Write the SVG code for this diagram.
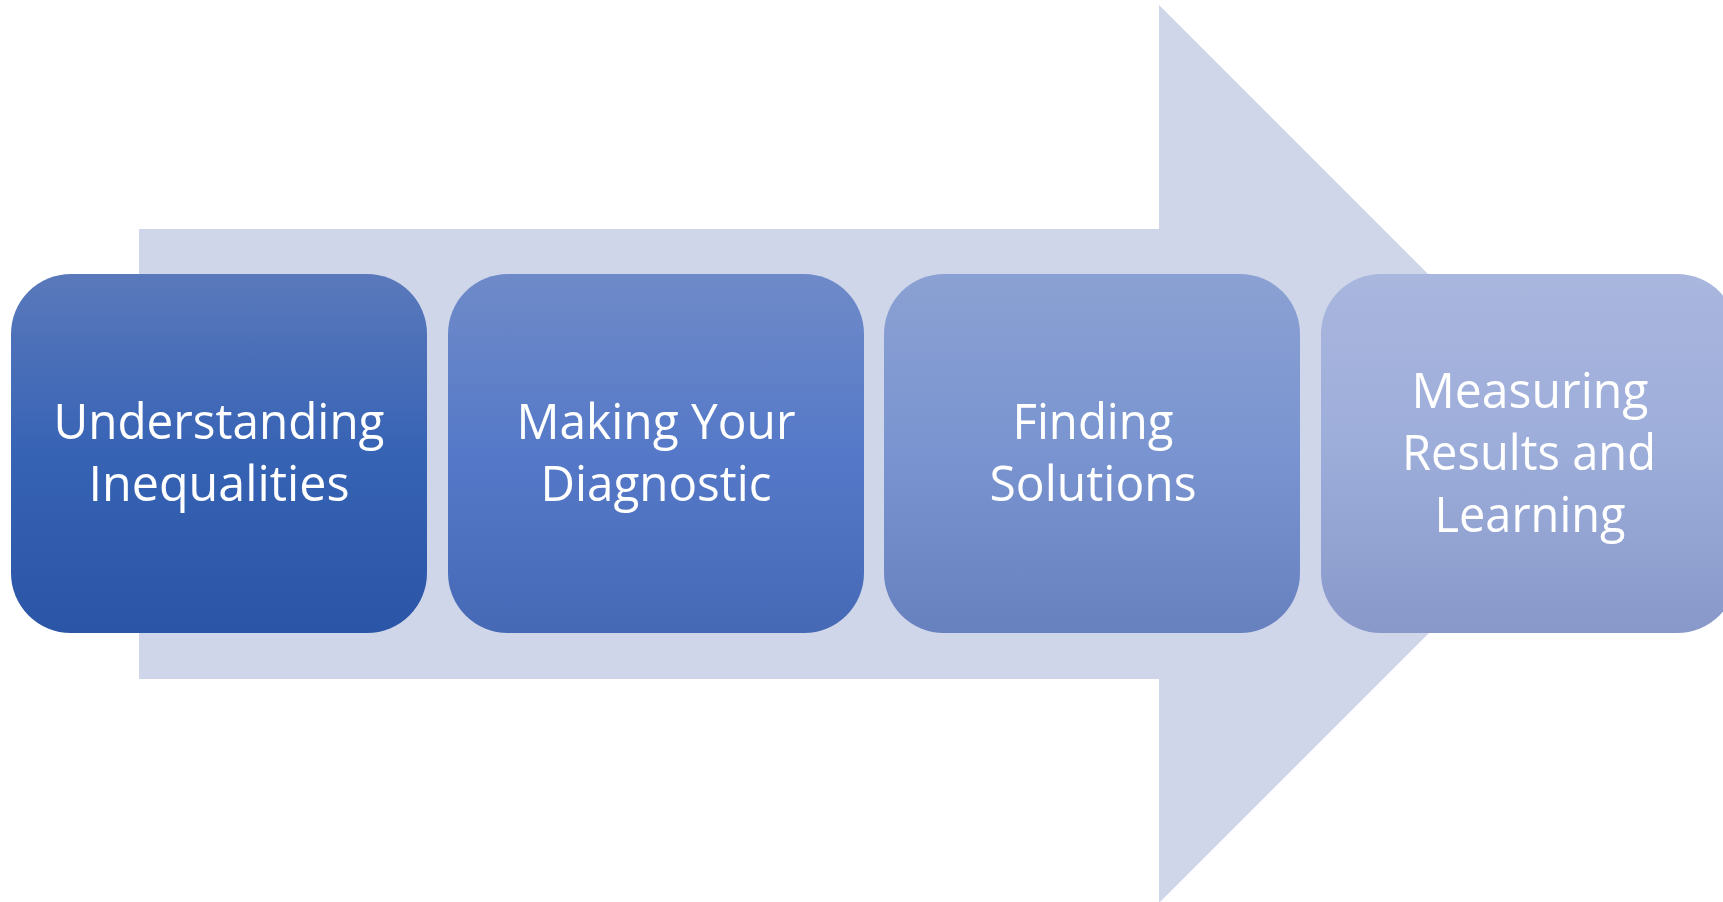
<svg xmlns="http://www.w3.org/2000/svg" width="1723" height="902" viewBox="0 0 1723 902">
<style>
.lbl{font-family:"Open Sans","Noto Sans","Liberation Sans",sans-serif;font-size:50px;fill:#ffffff;text-anchor:middle}
</style>
<defs>
<linearGradient id="g1" x1="0" y1="0" x2="0" y2="1"><stop offset="0" stop-color="#5a79bb"/><stop offset="0.5" stop-color="#3763b5"/><stop offset="1" stop-color="#2b55a6"/></linearGradient>
<linearGradient id="g2" x1="0" y1="0" x2="0" y2="1"><stop offset="0" stop-color="#6f8ac8"/><stop offset="0.5" stop-color="#5579c8"/><stop offset="1" stop-color="#4669b6"/></linearGradient>
<linearGradient id="g3" x1="0" y1="0" x2="0" y2="1"><stop offset="0" stop-color="#8ba1d3"/><stop offset="0.5" stop-color="#7994d0"/><stop offset="1" stop-color="#6781bf"/></linearGradient>
<linearGradient id="g4" x1="0" y1="0" x2="0" y2="1"><stop offset="0" stop-color="#a9b6de"/><stop offset="0.5" stop-color="#9dadda"/><stop offset="1" stop-color="#8898c9"/></linearGradient>
</defs>
<rect width="1723" height="902" fill="#ffffff"/>
<g id="connectors">
<polygon points="139,229 1159,229 1159,5 1608,454 1159,903 1159,679 139,679" fill="#cfd6ea"/>
</g>
<g id="n1">
<rect x="11" y="274" width="416" height="359" rx="60" ry="60" fill="url(#g1)"/>
<text class="lbl" x="219" y="439" textLength="331" lengthAdjust="spacingAndGlyphs">Understanding</text>
<text class="lbl" x="219" y="501" textLength="261" lengthAdjust="spacingAndGlyphs">Inequalities</text>
</g>
<g id="n2">
<rect x="448" y="274" width="416" height="359" rx="60" ry="60" fill="url(#g2)"/>
<text class="lbl" x="656" y="439" textLength="279" lengthAdjust="spacingAndGlyphs">Making Your</text>
<text class="lbl" x="656" y="501" textLength="231" lengthAdjust="spacingAndGlyphs">Diagnostic</text>
</g>
<g id="n3">
<rect x="884" y="274" width="416" height="359" rx="60" ry="60" fill="url(#g3)"/>
<text class="lbl" x="1093" y="439" textLength="161" lengthAdjust="spacingAndGlyphs">Finding</text>
<text class="lbl" x="1093" y="501" textLength="207" lengthAdjust="spacingAndGlyphs">Solutions</text>
</g>
<g id="n4">
<rect x="1321" y="274" width="416" height="359" rx="60" ry="60" fill="url(#g4)"/>
<text class="lbl" x="1530" y="408" textLength="237" lengthAdjust="spacingAndGlyphs">Measuring</text>
<text class="lbl" x="1529" y="470" textLength="254" lengthAdjust="spacingAndGlyphs">Results and</text>
<text class="lbl" x="1530" y="532" textLength="191" lengthAdjust="spacingAndGlyphs">Learning</text>
</g>
</svg>
